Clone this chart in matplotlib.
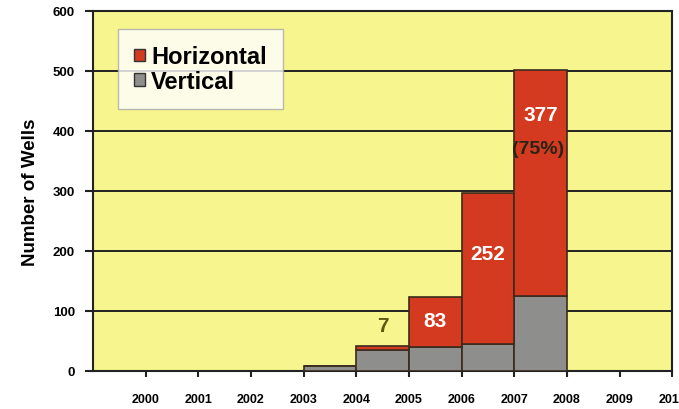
import matplotlib.pyplot as plt
from matplotlib.patches import Patch

years = [2003, 2004, 2005, 2006, 2007]
vertical = [8, 35, 40, 45, 125]
horizontal = [0, 7, 83, 252, 377]
tick_years = list(range(2000, 2011))

red = '#d33a1f'
grey = '#8e8e8c'
edge = '#3b2b1c'

plt.rcParams['font.family'] = ['Liberation Sans', 'DejaVu Sans']

fig = plt.figure(figsize=(6.79, 4.10), dpi=100)
ax = fig.add_axes([0.137, 0.093, 0.853, 0.878])
ax.set_facecolor('#f6f58e')

ax.bar(years, vertical, width=1, align='edge', color=grey, edgecolor=edge, linewidth=1.2, zorder=3)
ax.bar(years, horizontal, width=1, align='edge', bottom=vertical, color=red,
       edgecolor=edge, linewidth=1.2, zorder=3)

# bar labels
for y, v, h in zip(years, vertical, horizontal):
    if h == 0:
        continue
    if h < 20:
        ax.text(y + 0.5, v + h + 18, str(h), ha='center', va='bottom', fontsize=15,
                fontweight='bold', color='#5d5a10', zorder=4)
    elif h < 100:
        ax.text(y + 0.5, v + h / 2 + 2, str(h), ha='center', va='center', fontsize=15,
                fontweight='bold', color='white', zorder=4)
    else:
        ytext = v + h * 0.6 if h < 300 else v + h * 0.8
        ax.text(y + 0.5, ytext, str(h), ha='center', va='center', fontsize=15,
                fontweight='bold', color='white', zorder=4)
ax.text(2007.45, 370, '(75%)', ha='center', va='center', fontsize=14,
        fontweight='bold', color='#2a2418', zorder=4)

ax.set_xlim(1999, 2010)
ax.set_ylim(0, 600)
ax.set_xticks(tick_years)
ax.set_xticklabels([str(t) for t in tick_years], fontsize=9, fontweight='bold')
ax.set_yticks(range(0, 601, 100))
ax.set_yticklabels([str(t) for t in range(0, 601, 100)], fontsize=9.5, fontweight='bold')
ax.tick_params(axis='x', length=4, width=1.5, pad=12, color='#222222')
ax.tick_params(axis='y', length=6, width=1.5, pad=7, color='#222222')
ax.yaxis.grid(True, color='#222222', linewidth=1.4, zorder=1)
ax.set_axisbelow(True)
for s in ax.spines.values():
    s.set_linewidth(1.5)
    s.set_color('#222222')

ax.set_ylabel('Number of Wells', fontsize=13.5, fontweight='bold', labelpad=10)

handles = [Patch(facecolor=red, edgecolor='#333333', label='Horizontal'),
           Patch(facecolor=grey, edgecolor='#333333', label='Vertical')]
leg = ax.legend(handles=handles, loc='upper left', bbox_to_anchor=(0.043, 0.95),
                prop={'size': 17, 'weight': 'bold'}, frameon=True, fancybox=False,
                handlelength=0.45, handleheight=0.45, handletextpad=0.25,
                labelspacing=0.05, borderpad=0.7, borderaxespad=0,
                edgecolor='#aaaaaa')
leg.get_frame().set_linewidth(1)
leg.set_zorder(5)

fig.savefig('out.png', dpi=100)
